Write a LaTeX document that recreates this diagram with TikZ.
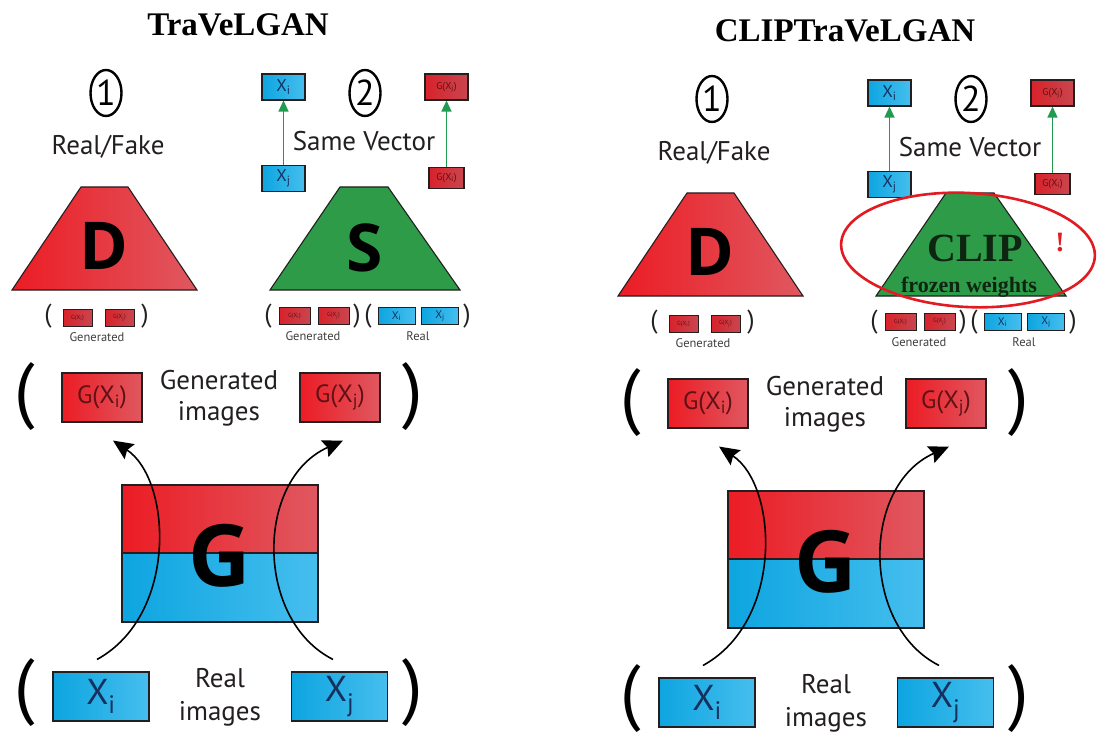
\documentclass[tikz,border=0pt]{standalone}
\usepackage{fontspec}
\setmainfont{Liberation Serif}
\newfontfamily\labelfont{PT Sans}
\newfontfamily\heavyfont{Open Sans}
\usetikzlibrary{arrows.meta,shapes.geometric}

\definecolor{redL}{HTML}{EC1C24}
\definecolor{redR}{HTML}{E05860}
\definecolor{redDL}{HTML}{D8222B}
\definecolor{redDR}{HTML}{C9464E}
\definecolor{blueL}{HTML}{0DA5E0}
\definecolor{blueR}{HTML}{46BEEE}
\definecolor{greenS}{HTML}{2E9B48}
\definecolor{arrowgreen}{HTML}{1F9C50}
\definecolor{edge}{HTML}{231F20}
\definecolor{redtxt}{HTML}{5E1116}
\definecolor{bluetxt}{HTML}{16305E}
\definecolor{markred}{HTML}{E21B23}
\definecolor{cliptxt}{HTML}{0E2611}

\tikzset{
  outline/.style={draw=edge, line width=1.1pt},
  redgrad/.style={left color=redL, right color=redR},
  darkredgrad/.style={left color=redDL, right color=redDR},
  bluegrad/.style={left color=blueL, right color=blueR},
  lbl/.style={font=\labelfont\fontsize{27}{27}\selectfont, text=edge, inner sep=0},
  tinylbl/.style={font=\labelfont\fontsize{12.5}{12.5}\selectfont, text=black!75, inner sep=0},
  oval/.style={draw=black, ellipse, line width=2.4pt, minimum width=31pt, minimum height=46pt,
    inner sep=0, font=\labelfont\fontsize{36}{36}\selectfont},
  bigletter/.style={font=\heavyfont\bfseries\fontsize{66}{66}\selectfont, inner sep=0},
  smallparen/.style={font=\labelfont\fontsize{26}{26}\selectfont, inner sep=0, text=edge},
  bigparen/.style={font=\labelfont\fontsize{73}{73}\selectfont, inner sep=0},
  minired/.style={outline, line width=0.8pt, darkredgrad, inner sep=0, minimum height=17pt,
    font=\labelfont\fontsize{6}{6}\selectfont, text=redtxt},
  miniblue/.style={outline, line width=0.8pt, bluegrad, inner sep=0, minimum width=37pt,
    minimum height=17pt, font=\labelfont\fontsize{11}{11}\selectfont, text=bluetxt},
  midblue/.style={outline, bluegrad, inner sep=0, minimum width=43pt, minimum height=26pt,
    font=\labelfont\fontsize{17}{17}\selectfont, text=bluetxt},
  midred/.style={outline, darkredgrad, inner sep=0, minimum width=43pt, minimum height=26pt,
    font=\labelfont\fontsize{10}{10}\selectfont, text=redtxt},
  bigred/.style={outline, redgrad, inner sep=0, minimum width=80pt, minimum height=49pt,
    font=\labelfont\fontsize{25}{25}\selectfont, text=redtxt},
  bigblue/.style={outline, bluegrad, inner sep=0, minimum width=96pt, minimum height=49pt,
    font=\labelfont\fontsize{36}{36}\selectfont, text=bluetxt},
  gtop/.style={outline, redgrad, inner sep=0, minimum width=196pt, minimum height=68pt},
  gbottom/.style={outline, bluegrad, inner sep=0, minimum width=196pt, minimum height=69pt},
  greenarrow/.style={draw=arrowgreen, line width=1.4pt, -{Triangle[length=11pt,width=10pt]}},
  genarrow/.style={draw=black, line width=1.6pt, -{Stealth[length=20pt,width=18pt,inset=3pt]}},
  titletext/.style={font=\bfseries\fontsize{33}{33}\selectfont, inner sep=0},
}

% Shared parts of one TraVeLGAN-style panel; #1 prefixes the node names
\newcommand\tvpanel[1]{%
  % discriminator D
  \node[oval] (#1one) at (106,93) {1};
  \node[lbl] (#1rf) at (108,147) {Real/Fake};
  \path[outline, redgrad] (12,290) -- (81,187) -- (128,187) -- (197,290) -- cycle;
  \node[bigletter] (#1D) at (104,246) {D};
  \node[smallparen] (#1dpl) at (48,316) {(};
  \node[minired, minimum width=29pt] (#1dga) at (77.5,318) {G(X\textsubscript{i})};
  \node[minired, minimum width=29pt] (#1dgb) at (119.5,318) {G(X\textsubscript{j})};
  \node[smallparen] (#1dpr) at (145,316) {)};
  \node[tinylbl] (#1dgen) at (97,337) {Generated};
  % siamese network inputs and outputs
  \node[oval] (#1two) at (365,93) {2};
  \node[midblue] (#1sxi) at (283.5,87) {X\textsubscript{i}};
  \node[midblue] (#1sxj) at (283.5,178.5) {X\textsubscript{j}};
  \node[midred] (#1sgj) at (446.5,87) {G(X\textsubscript{j})};
  \node[midred, minimum width=35pt, minimum height=21pt] (#1sgi) at (446.5,178) {G(X\textsubscript{i})};
  \draw[greenarrow] (#1sxj) -- (#1sxi);
  \draw[greenarrow] (#1sgi) -- (#1sgj);
  \node[lbl] (#1sv) at (364,141) {Same Vector};
  \node[smallparen] (#1spa) at (268,316) {(};
  \node[minired, minimum width=31pt] (#1sga) at (294.5,316) {G(X\textsubscript{i})};
  \node[minired, minimum width=31pt] (#1sgb) at (333.5,316) {G(X\textsubscript{j})};
  \node[smallparen] (#1spb) at (357,316) {)};
  \node[smallparen] (#1spc) at (368,316) {(};
  \node[miniblue] (#1sxa) at (396.5,316) {X\textsubscript{i}};
  \node[miniblue] (#1sxb) at (440,316) {X\textsubscript{j}};
  \node[smallparen] (#1spd) at (467,316) {)};
  \node[tinylbl] (#1sgen) at (313,336) {Generated};
  \node[tinylbl] (#1sreal) at (418,336) {Real};
  % generated images
  \node[bigparen] (#1gpl) at (25,397) {(};
  \node[bigparen] (#1gpr) at (413,397) {)};
  \node[bigred] (#1gxi) at (102,397.5) {G(X\textsubscript{i})};
  \node[bigred] (#1gxj) at (340,397.5) {G(X\textsubscript{j})};
  \node[lbl] (#1gen1) at (219,380) {Generated};
  \node[lbl] (#1gen2) at (219,414) {images};
  % generator G
  \node[gtop] (#1gt) at (220,519) {};
  \node[gbottom] (#1gb) at (220,587.5) {};
  \node[bigletter, font=\heavyfont\bfseries\fontsize{86}{86}\selectfont] (#1G) at (220,556) {G};
  % real images
  \node[bigparen] (#1rpl) at (25,693) {(};
  \node[bigparen] (#1rpr) at (413,693) {)};
  \node[bigblue] (#1xi) at (101,696.5) {X\textsubscript{i}};
  \node[bigblue] (#1xj) at (339.5,696.5) {X\textsubscript{j}};
  \node[lbl] (#1real1) at (220,678) {Real};
  \node[lbl] (#1real2) at (220,714) {images};
  % mapping through G
  \draw[genarrow] ([shift={(-4,-12)}]#1xi.north) .. controls (178,615) and (172,480) .. ([shift={(11,18)}]#1gxi.south);
  \draw[genarrow] ([shift={(-6.5,-12)}]#1xj.north) .. controls (255,620) and (255,480) .. ([shift={(3,18)}]#1gxj.south);
}

\begin{document}
\begin{tikzpicture}[x=1pt,y=-1pt]
  \useasboundingbox (0,0) rectangle (1097,735);
  \fill[white] (0,0) rectangle (1097,735);

  \node[titletext] (titleL) at (238,25) {TraVeLGAN};
  \node[titletext] (titleR) at (845,31) {CLIPTraVeLGAN};

  % TraVeLGAN: trainable siamese network S
  \begin{scope}
    \tvpanel{L}
    \path[outline, fill=greenS] (270,290) -- (340,187) -- (388,187) -- (460,290) -- cycle;
    \node[bigletter] (LS) at (365,248) {S};
  \end{scope}

  % CLIPTraVeLGAN: frozen CLIP encoder in place of S
  \begin{scope}[shift={(606,6)}]
    \tvpanel{R}
    \path[outline, fill=greenS] (270,290) -- (340,187) -- (388,187) -- (460,290) -- cycle;
    \node[font=\bfseries\fontsize{40}{40}\selectfont, text=cliptxt, inner sep=0] (clip) at (369,242) {CLIP};
    \node[font=\bfseries\fontsize{22}{22}\selectfont, text=cliptxt, inner sep=0] (frozen) at (363,281) {frozen weights};
    \draw[markred, line width=2.6pt, rotate around={-3:(362,244)}] (362,244) ellipse [x radius=127, y radius=57];
    \node[font=\bfseries\fontsize{28}{28}\selectfont, text=markred, inner sep=0] (bang) at (454,237) {!};
  \end{scope}
\end{tikzpicture}
\end{document}
